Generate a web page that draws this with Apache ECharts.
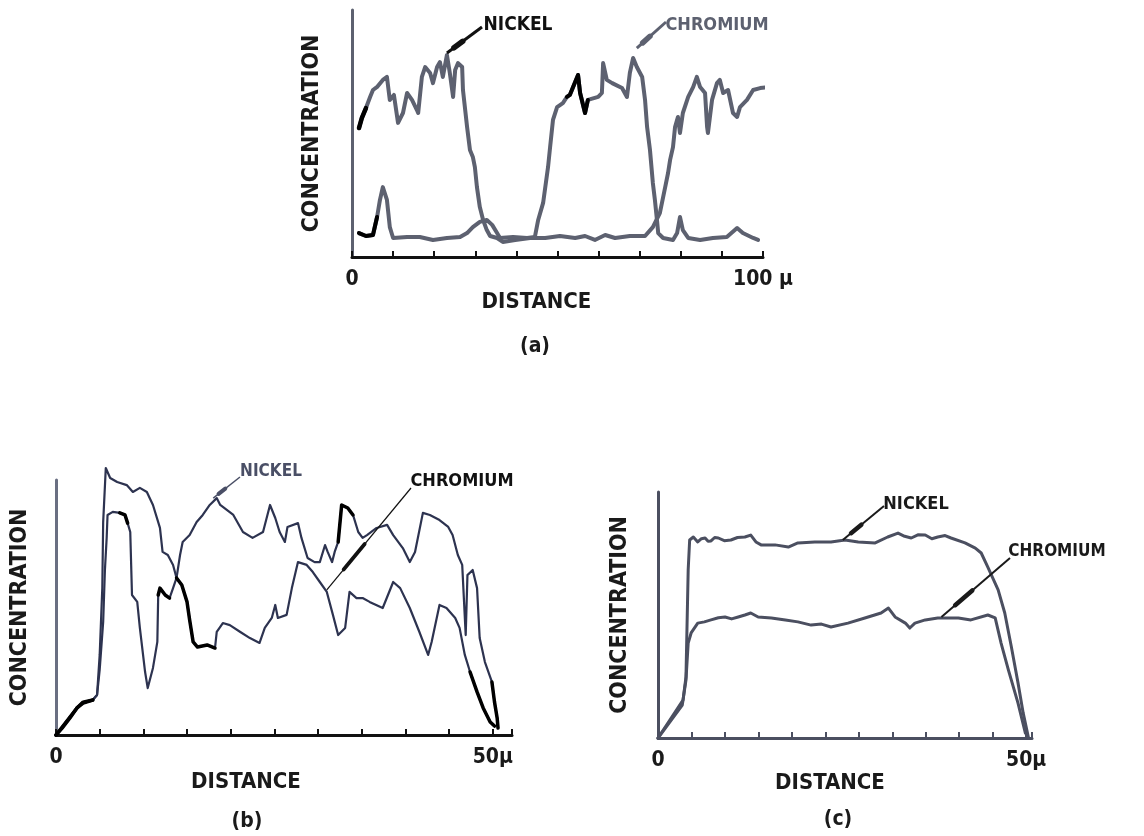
<!DOCTYPE html>
<html>
<head>
<meta charset="utf-8">
<script src="https://cdn.jsdelivr.net/npm/echarts@6/dist/echarts.min.js"></script>
<style>
html,body{margin:0;padding:0;background:#fff;}
#chart{width:1144px;height:836px;}
</style>
</head>
<body>
<div id="chart"></div>
<script>
// ---------- DATA (distance, concentration in arbitrary units 0-100) ----------
// Panel (a): 0-100 µm
var nickelA = [[1.7,52.2],[2.4,56.3],[3.4,60.3],[4.4,64.8],[5.1,67.6],[6.2,69.0],[7.5,71.7],[8.5,72.9],[9.2,63.6],[10.2,65.6],[11.2,54.3],[12.4,58.3],[13.4,66.4],[14.6,63.6],[15.8,59.5],[16.1,58.3],[17.0,72.9],[17.8,76.9],[19.0,74.5],[19.7,70.4],[20.7,76.9],[21.4,78.9],[22.1,72.9],[23.1,81.8],[23.8,74.5],[24.6,64.8],[25.1,75.7],[25.8,78.5],[26.8,76.9],[27.0,67.6],[28.0,52.6],[28.7,43.3],[29.4,40.5],[29.9,36.4],[30.4,28.3],[31.1,20.2],[31.9,15.0],[32.8,10.9],[33.6,8.5],[35.3,7.7],[36.7,6.1],[39.7,6.9],[43.3,7.7],[47.0,7.7],[50.6,8.5],[54.3,7.7],[56.7,8.5],[59.1,6.9],[61.6,8.9],[64.0,7.7],[67.6,8.5],[71.3,8.5],[73.2,12.1],[74.9,17.8],[76.2,28.3],[76.9,34.0],[77.4,39.3],[78.1,44.5],[78.6,52.6],[79.3,56.7],[79.8,50.2],[80.5,58.3],[81.8,64.8],[83.0,68.8],[83.9,72.9],[84.7,68.8],[85.9,66.4],[86.4,52.6],[86.6,50.2],[87.6,63.6],[88.8,70.4],[89.5,71.7],[90.3,66.4],[91.5,67.6],[92.7,58.3],[93.7,56.7],[94.4,60.7],[96.1,63.6],[97.6,67.6],[99.3,68.4],[101.5,68.8]];
var chromiumA = [[1.7,9.7],[3.4,8.5],[5.1,8.9],[6.1,16.2],[6.8,23.1],[7.5,28.3],[8.5,23.1],[9.2,12.1],[10.0,7.7],[13.4,8.1],[16.5,8.1],[19.7,6.9],[23.1,7.7],[26.3,8.1],[28.0,9.7],[29.4,12.1],[31.1,14.2],[32.8,15.0],[34.1,13.0],[35.3,9.7],[36.0,7.7],[39.2,8.1],[42.6,7.7],[44.5,8.1],[45.3,15.0],[46.5,21.9],[47.7,36.4],[48.2,44.5],[48.9,55.5],[49.9,60.7],[51.3,62.3],[52.3,64.8],[53.0,65.6],[53.8,68.8],[55.0,73.7],[55.5,66.4],[56.7,58.3],[57.4,63.6],[59.9,64.8],[60.8,66.4],[61.1,78.5],[62.0,71.7],[63.3,70.4],[65.7,68.4],[66.9,64.8],[67.6,74.5],[68.4,80.6],[69.3,76.9],[70.6,72.9],[71.3,63.6],[71.8,52.6],[72.5,43.3],[73.2,30.0],[73.7,23.1],[74.2,15.0],[74.5,9.7],[75.7,7.7],[78.1,6.9],[79.1,9.7],[79.8,16.2],[80.5,10.9],[81.8,7.7],[84.7,6.9],[87.8,7.7],[91.2,8.1],[93.7,11.7],[95.1,9.7],[97.6,7.7],[98.8,6.9]];
// Panel (b): 0-50 µm
var nickelB = [[0,0],[2.4,10.6],[3.1,12.9],[4.2,13.7],[4.7,15.7],[5.0,25.5],[5.4,44.3],[5.6,64.7],[5.8,77.3],[5.9,86.3],[6.5,87.5],[7.3,87.1],[7.9,86.3],[8.2,83.1],[8.5,79.6],[8.7,54.9],[9.3,52.2],[9.6,42.0],[10.2,24.7],[10.5,18.4],[11.1,26.3],[11.6,36.5],[11.7,54.9],[11.9,57.6],[12.5,54.9],[13.0,53.7],[13.4,57.6],[13.8,61.6],[14.2,70.6],[14.5,75.7],[15.3,78.4],[16.1,83.5],[16.8,86.3],[17.6,90.2],[18.4,92.9],[18.8,90.2],[20.3,86.3],[21.4,79.6],[22.5,77.3],[23.7,79.6],[24.5,90.2],[25.1,85.1],[25.6,79.6],[26.2,75.7],[26.5,81.6],[27.7,83.1],[28.1,77.3],[28.8,69.4],[29.6,67.8],[30.2,67.8],[30.8,74.5],[31.1,71.8],[31.6,67.8],[31.9,71.8],[32.3,75.7],[32.7,90.2],[33.4,89.0],[34.0,86.3],[34.6,79.6],[35.1,77.3],[35.6,78.4],[36.7,81.2],[37.9,82.4],[38.6,78.4],[39.7,73.3],[40.5,67.8],[41.1,71.8],[42.0,87.1],[42.8,86.3],[43.9,84.3],[44.9,81.6],[45.4,78.4],[46.0,70.6],[46.5,66.7],[46.9,39.2],[47.1,62.7],[47.7,64.7],[48.2,57.6],[48.5,38.0],[49.1,28.6],[49.9,20.8],[50.2,12.9],[50.5,6.7],[50.6,2.7]];
var chromiumB = [[0,0],[0.7,2.7],[1.6,6.7],[2.4,10.6],[3.1,12.5],[4.2,13.7],[4.7,15.7],[5.0,31.4],[5.3,57.6],[5.4,83.5],[5.7,104.7],[6.2,100.8],[7.0,99.2],[8.1,98.0],[8.8,95.3],[9.6,96.9],[10.4,95.3],[11.1,90.2],[11.9,81.2],[12.2,71.8],[12.8,70.6],[13.4,66.7],[13.8,61.6],[14.4,58.8],[15.0,52.2],[15.3,45.1],[15.7,36.5],[16.2,34.5],[17.3,35.3],[18.2,34.1],[18.4,40.4],[19.1,43.9],[19.9,43.1],[21.1,40.4],[22.2,38.0],[23.3,36.1],[23.9,42.0],[24.7,45.9],[25.1,51.0],[25.4,45.9],[26.4,47.1],[27.0,57.6],[27.7,67.8],[28.7,66.7],[29.4,63.9],[30.2,60.0],[31.0,56.1],[31.7,47.1],[32.3,39.2],[33.1,42.0],[33.6,56.1],[34.4,53.7],[35.1,53.7],[35.9,52.2],[37.4,49.8],[38.6,60.0],[39.4,57.6],[40.5,49.8],[41.6,40.4],[42.6,31.4],[43.0,36.5],[43.9,51.0],[44.7,49.8],[45.7,45.9],[46.2,42.0],[46.8,31.4],[47.4,24.7],[48.2,16.9],[48.9,10.6],[49.7,5.1],[50.2,3.5]];
// Panel (c): 0-50 µm
var nickelC = [[0,0],[3.4,15.4],[3.8,24.8],[4.1,68.3],[4.3,80.5],[4.8,81.7],[5.4,79.7],[5.9,81.0],[6.4,81.3],[6.8,80.0],[7.2,80.1],[7.7,81.5],[8.2,81.3],[9.0,80.2],[9.9,80.5],[10.8,81.5],[11.8,81.7],[12.6,82.5],[13.3,79.7],[14.0,78.5],[15.9,78.5],[17.7,77.6],[19.0,79.3],[21.3,79.7],[23.5,79.7],[25.4,80.5],[27.2,79.7],[29.5,79.3],[31.2,81.7],[32.6,83.3],[33.5,82.0],[34.4,81.3],[35.3,82.6],[36.3,82.5],[37.2,81.0],[38.0,81.7],[39.0,82.3],[39.8,81.3],[41.7,79.3],[43.1,77.2],[43.9,75.2],[44.8,69.5],[46.2,60.2],[47.1,50.8],[48.0,37.0],[48.9,22.4],[49.6,10.2],[50.3,0.4]];
var chromiumC = [[0,0],[3.3,13.4],[3.8,23.6],[4.1,38.6],[4.5,42.7],[5.4,46.7],[6.3,47.2],[7.2,48.0],[8.2,48.9],[9.1,49.2],[10.0,48.4],[10.9,49.2],[11.8,50.0],[12.6,50.8],[13.6,49.2],[15.4,48.8],[17.3,48.0],[19.0,47.2],[20.8,45.9],[22.2,46.3],[23.5,45.1],[25.8,46.7],[28.1,48.8],[30.3,50.8],[31.3,52.8],[32.2,49.2],[33.6,46.7],[34.2,44.7],[34.9,46.7],[36.3,48.0],[38.0,48.8],[40.8,48.8],[42.5,48.0],[44.8,50.0],[45.8,48.8],[46.6,38.6],[47.6,27.6],[48.9,14.2],[49.9,2.0]];
// retouched (black ink) stretches of the traces, as distance ranges
var inkNickelA = [[1.5,4.0]];
var inkChromiumA = [[1.5,6.2],[52.0,57.5]];
var inkNickelB = [[0,4.2],[7.3,8.3],[11.7,13.0],[32.3,34.0],[49.5,50.6]];
var inkChromiumB = [[0,4.2],[13.8,18.3],[47.4,50.2]];
// axis tick labels
var tickLabelsA = {0:'0',100:'100 \u03bc'};
var tickLabelsB = {0:'0',50:'50\u03bc'};
var tickLabelsC = {0:'0',50:'50\u03bc'};

// ---------- CHART ----------
var FONT = "'DejaVu Sans Condensed','Liberation Sans Narrow',sans-serif";
var chart = echarts.init(document.getElementById('chart'), null, {renderer:'canvas'});

function fmt(map){
  return function(v){
    for (var k in map){ if (Math.abs(v - Number(k)) < 0.01) return map[k]; }
    return '';
  };
}
function xAxisCfg(idx, max, interval, labels, lineColor, padRight, gap){
  return {
    type:'value', gridIndex:idx, min:0, max:max, interval:interval,
    axisLine:{show:true, lineStyle:{color:lineColor, width:3}},
    axisTick:{show:true, inside:true, length:6, lineStyle:{color:lineColor, width:2}},
    axisLabel:{show:true, formatter:fmt(labels), color:'#1a1a1a', fontSize:21, fontWeight:'bold', fontFamily:FONT, margin:12, showMinLabel:true, showMaxLabel:true, hideOverlap:false},
    splitLine:{show:false},
    name:'DISTANCE', nameLocation:'middle', nameGap:gap,
    nameTextStyle:{fontSize:22, fontWeight:'bold', color:'#1a1a1a', fontFamily:FONT, padding:[0,padRight,0,0]}
  };
}
function yAxisCfg(idx, lineColor, gap){
  return {
    type:'value', gridIndex:idx, min:0, max:100,
    axisLine:{show:true, lineStyle:{color:lineColor, width:3}},
    axisTick:{show:false}, axisLabel:{show:false}, splitLine:{show:false},
    name:'CONCENTRATION', nameLocation:'middle', nameGap:gap, nameRotate:90,
    nameTextStyle:{fontSize:23, fontWeight:'bold', color:'#1a1a1a', fontFamily:FONT}
  };
}
function lineSeries(name, idx, data, color, width, z){
  return {
    name:name, type:'line', xAxisIndex:idx, yAxisIndex:idx, data:data,
    showSymbol:false, symbol:'none', clip:false, z:z||2, silent:true,
    lineStyle:{color:color, width:width, join:'round', cap:'round'}
  };
}
function inkSeries(idx, data, ranges, width){
  return ranges.map(function(r){
    var pts = data.filter(function(p){ return p[0] >= r[0] && p[0] <= r[1]; });
    return lineSeries('ink', idx, pts, '#000', width, 5);
  });
}

var series = [
  lineSeries('NICKEL', 0, nickelA, '#5d6170', 4),
  lineSeries('CHROMIUM', 0, chromiumA, '#5d6170', 4),
  lineSeries('NICKEL', 1, nickelB, '#2d3350', 2.2),
  lineSeries('CHROMIUM', 1, chromiumB, '#2d3350', 2.2),
  lineSeries('NICKEL', 2, nickelC, '#4b4f60', 3),
  lineSeries('CHROMIUM', 2, chromiumC, '#4b4f60', 3)
];
series = series.concat(inkSeries(0, nickelA, inkNickelA, 4.5))
               .concat(inkSeries(0, chromiumA, inkChromiumA, 4))
               .concat(inkSeries(1, nickelB, inkNickelB, 3.5))
               .concat(inkSeries(1, chromiumB, inkChromiumB, 3.5));

chart.setOption({
  animation:false,
  backgroundColor:'#ffffff',
  textStyle:{fontFamily:FONT},
  grid:[
    {left:352, top:10, width:411, height:247},
    {left:56, top:480, width:456, height:255},
    {left:658, top:492, width:374, height:246}
  ],
  xAxis:[
    xAxisCfg(0, 100, 10, tickLabelsA, '#111', 42, 30),
    xAxisCfg(1, 52.2, 5, tickLabelsB, '#111', 76, 36),
    xAxisCfg(2, 50.8, 50/11, tickLabelsC, '#4b4f60', 30, 34)
  ],
  yAxis:[
    yAxisCfg(0, '#5d6170', 28),
    yAxisCfg(1, '#6a6f82', 24),
    yAxisCfg(2, '#4b4f60', 26)
  ],
  series:series
});

// ---------- annotations (labels with pointer lines to the traces) ----------
var notes = [
  {grid:0, text:'NICKEL', cx:518, cy:25, size:19, weight:'bold', color:'#111', from:[482,27], tip:[23.1,82.6], lw:3},
  {grid:0, text:'CHROMIUM', cx:717, cy:25, size:18, weight:'bold', color:'#5d6170', from:[666,22], tip:[69.3,84.6], lw:3},
  {grid:1, text:'NICKEL', cx:271, cy:472, size:17, weight:'bold', color:'#4a4f66', from:[240,477], tip:[18.0,92.9], lw:1.5},
  {grid:1, text:'CHROMIUM', cx:462, cy:481, size:18, weight:'bold', color:'#111', from:[411,488], tip:[31.0,56.9], lw:1.2},
  {grid:2, text:'NICKEL', cx:916, cy:504, size:18, weight:'bold', color:'#1a1a1a', from:[884,506], tip:[25.1,80.5], lw:2},
  {grid:2, text:'CHROMIUM', cx:1057, cy:552, size:17, weight:'bold', color:'#1a1a1a', from:[1010,558], tip:[38.5,49.2], lw:2}
];
var graphics = [];
notes.forEach(function(n){
  var tip = chart.convertToPixel({gridIndex:n.grid}, n.tip);
  graphics.push({type:'text', x:n.cx, y:n.cy, style:{text:n.text, font:n.weight+' '+n.size+'px '+FONT, fill:n.color, textAlign:'center', textVerticalAlign:'middle'}, z:20});
  graphics.push({type:'line', shape:{x1:n.from[0], y1:n.from[1], x2:tip[0], y2:tip[1]}, style:{stroke:n.color, lineWidth:n.lw}, z:20});
  // short thickened stroke near the tip (arrow head)
  var dx = tip[0]-n.from[0], dy = tip[1]-n.from[1];
  graphics.push({type:'line', shape:{x1:n.from[0]+dx*0.55, y1:n.from[1]+dy*0.55, x2:n.from[0]+dx*0.8, y2:n.from[1]+dy*0.8}, style:{stroke:n.color, lineWidth:n.lw+2.5, lineCap:'round'}, z:20});
});
// panel captions
[['(a)',535,347],['(b)',247,822],['(c)',838,820]].forEach(function(c){
  graphics.push({type:'text', x:c[1], y:c[2], style:{text:c[0], font:'bold 21px '+FONT, fill:'#1a1a1a', textAlign:'center', textVerticalAlign:'middle'}, z:20});
});
chart.setOption({graphic:graphics});
</script>
</body>
</html>
